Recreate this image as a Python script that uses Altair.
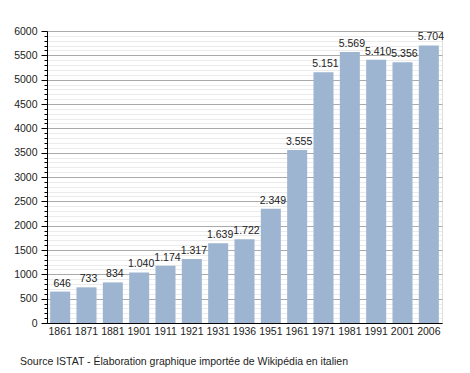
import altair as alt
import pandas as pd

years = ["1861", "1871", "1881", "1901", "1911", "1921", "1931", "1936",
         "1951", "1961", "1971", "1981", "1991", "2001", "2006"]
population = [646, 733, 834, 1040, 1174, 1317, 1639, 1722,
              2349, 3555, 5151, 5569, 5410, 5356, 5704]
major_ticks = list(range(0, 6001, 500))
minor_ticks = [v for v in range(0, 6001, 100) if v % 500 != 0]
source = "Source ISTAT - Élaboration graphique importée de Wikipédia en italien"

df = pd.DataFrame({"year": years, "pop": population})

FONT = "Liberation Sans"
TXT = "#222222"

x_enc = alt.X("year:N", sort=None, title=None,
              scale=alt.Scale(paddingInner=0.24, paddingOuter=0.12),
              axis=alt.Axis(labelAngle=0, ticks=False, domainColor="#000000",
                            labelPadding=3, labelFontSize=10.5, labelColor=TXT,
                            labelFont=FONT, grid=False))

yscale = alt.Scale(domain=[0, 6000], nice=False, zero=True)

bars = alt.Chart(df).mark_bar(color="#9db5d1").encode(
    x=x_enc,
    y=alt.Y("pop:Q", scale=yscale, title=None,
            axis=alt.Axis(orient="left", values=minor_ticks, labels=False,
                          tickSize=3, tickColor="#000000", domain=False,
                          grid=True, gridColor="#ebebeb", gridWidth=1)),
)

labels = alt.Chart(df).transform_calculate(
    lab="replace(format(datum.pop, ','), ',', '.')"
).mark_text(baseline="alphabetic", dy=-5, dx=2, fontSize=10.5, font=FONT, color=TXT).encode(
    x=alt.X("year:N", sort=None, title=None),
    y=alt.Y("pop:Q", scale=yscale, title=None,
            axis=alt.Axis(orient="left", values=major_ticks, format="d",
                          tickSize=6, tickColor="#000000",
                          domain=True, domainColor="#000000",
                          labelPadding=4, labelFontSize=10.5, labelColor=TXT,
                          labelFont=FONT,
                          grid=True, gridColor="#aaaaaa", gridWidth=1)),
    text="lab:N",
)

chart = alt.layer(bars, labels).resolve_axis(y="independent").properties(
    width=395,
    height=292,
    autosize=alt.AutoSizeParams(type="none"),
    padding={"left": 39, "top": 23, "right": 20, "bottom": 46},
    title=alt.TitleParams(source, orient="bottom", anchor="start", frame="group",
                          dx=-27, offset=20, fontSize=10.5, font=FONT,
                          fontWeight="normal", color=TXT),
).configure_view(stroke=None).configure(background="white")

chart.save("out.html", embed_options={"renderer": "svg", "actions": False})
